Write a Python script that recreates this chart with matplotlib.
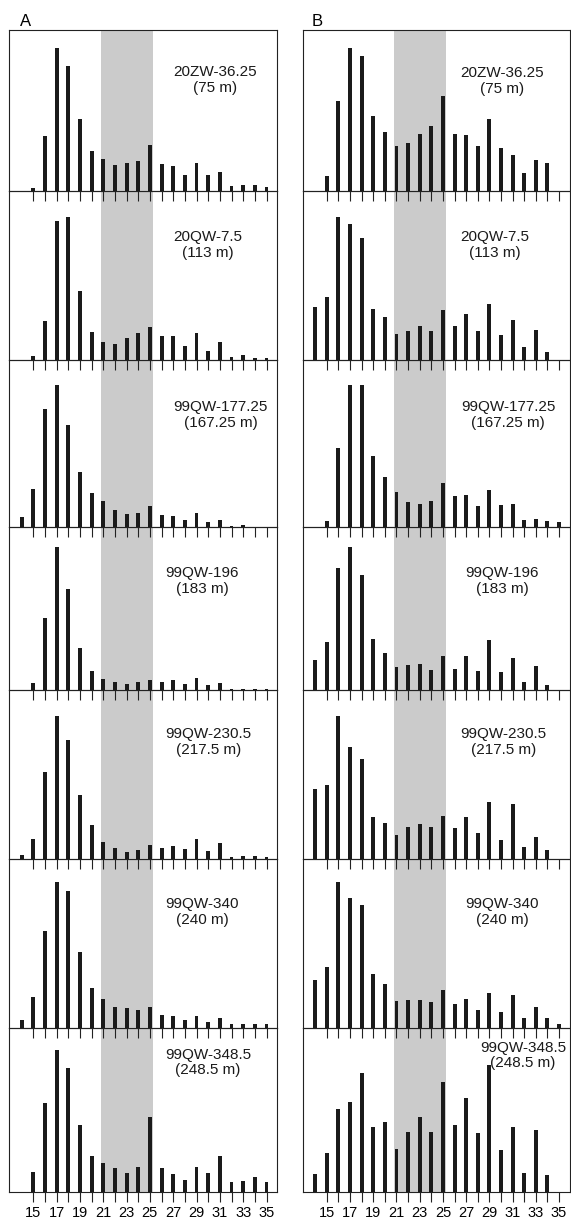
"""Grain-size style histograms, two columns (A, B) of seven stacked samples."""
import matplotlib
matplotlib.use("Agg")
import matplotlib.pyplot as plt

plt.rcParams["font.family"] = ["Liberation Sans", "DejaVu Sans"]

# bins 14..35, values in arbitrary units
SIZES = list(range(14, 36))
SAMPLES = ["20ZW-36.25", "20QW-7.5", "99QW-177.25", "99QW-196", "99QW-230.5", "99QW-340", "99QW-348.5"]
DEPTHS = ["75 m", "113 m", "167.25 m", "183 m", "217.5 m", "240 m", "248.5 m"]

a_20zw_36 = [0, 7, 164, 429, 374, 216, 118, 96, 78, 82, 89, 137, 79, 75, 46, 82, 46, 55, 15, 17, 17, 11]
a_20qw_7 = [0, 12, 117, 417, 430, 206, 83, 53, 47, 67, 82, 99, 71, 72, 41, 82, 27, 53, 10, 14, 7, 5]
a_99qw_177 = [29, 113, 353, 425, 306, 165, 102, 77, 51, 40, 41, 64, 37, 34, 21, 41, 16, 22, 3, 5, 1, 1]
a_99qw_196 = [0, 22, 217, 429, 304, 127, 57, 32, 23, 19, 23, 30, 25, 29, 17, 35, 14, 20, 4, 4, 3, 3]
a_99qw_230 = [11, 61, 261, 428, 358, 193, 103, 52, 33, 22, 28, 41, 34, 39, 30, 60, 23, 47, 6, 8, 8, 7]
a_99qw_340 = [23, 91, 289, 436, 409, 226, 120, 85, 62, 58, 54, 61, 38, 34, 22, 35, 16, 28, 10, 11, 11, 11]
a_99qw_348 = [0, 60, 268, 428, 374, 201, 109, 89, 73, 58, 75, 226, 72, 54, 38, 76, 58, 108, 31, 35, 47, 30]

b_20zw_36 = [0, 44, 269, 429, 404, 224, 177, 134, 143, 170, 195, 284, 170, 167, 134, 216, 129, 107, 54, 92, 83, 0]
b_20qw_7 = [159, 189, 430, 408, 366, 152, 128, 79, 86, 102, 88, 151, 101, 137, 86, 167, 74, 119, 39, 90, 24, 0]
b_99qw_177 = [0, 19, 236, 426, 426, 214, 150, 104, 76, 70, 78, 131, 94, 97, 63, 110, 67, 69, 20, 23, 19, 16]
b_99qw_196 = [89, 145, 367, 429, 346, 154, 111, 69, 74, 78, 61, 103, 62, 102, 58, 150, 53, 97, 23, 71, 16, 0]
b_99qw_230 = [211, 221, 428, 335, 299, 126, 109, 72, 96, 105, 96, 130, 92, 125, 77, 171, 57, 164, 36, 67, 28, 0]
b_99qw_340 = [142, 181, 436, 388, 369, 160, 132, 80, 84, 84, 77, 113, 70, 85, 52, 105, 46, 98, 29, 63, 30, 10]
b_99qw_348 = [54, 118, 251, 270, 358, 196, 211, 130, 182, 227, 182, 332, 201, 282, 177, 382, 127, 197, 59, 187, 52, 0]

COL_A = [a_20zw_36, a_20qw_7, a_99qw_177, a_99qw_196, a_99qw_230, a_99qw_340, a_99qw_348]
COL_B = [b_20zw_36, b_20qw_7, b_99qw_177, b_99qw_196, b_99qw_230, b_99qw_340, b_99qw_348]
SHADE_RANGE = (20.8, 25.3)

# layout (pixels)
W, H = 571, 1222
COLS = [(9.3, 277.0), (303.0, 569.5)]
ROWS = [30.0, 190.7, 360.0, 527.0, 690.0, 859.0, 1027.5, 1192.3]
LABEL_X = [[30.6, 30.0, 31.05, 29.5, 30.0, 29.5, 30.0],
           [30.1, 29.5, 30.6, 30.1, 30.2, 30.1, 31.9]]
LABEL_DY = [[50, 54, 55, 54, 52, 53, 35],
            [51, 54, 55, 54, 52, 53, 28]]

fig = plt.figure(figsize=(W / 100, H / 100), dpi=100)

for c, (col, (x0, x1)) in enumerate(zip([COL_A, COL_B], COLS)):
    for r, values in enumerate(col):
        top, bottom = ROWS[r], ROWS[r + 1]
        ax = fig.add_axes([x0 / W, 1 - bottom / H, (x1 - x0) / W, (bottom - top) / H])
        ax.set_zorder(20 - r)
        ax.patch.set_visible(False)
        ax.axvspan(*SHADE_RANGE, color="#cbcbcb", lw=0, zorder=0)
        ax.bar(SIZES, values, width=0.34, color="#1a1a1a", zorder=2)
        ax.set_xlim(12.95, 35.9)
        ax.set_ylim(0, (bottom - top) * 3)
        ticks = list(range(15, 36))
        ax.set_xticks(ticks)
        if r == len(col) - 1:
            ax.set_xticklabels([str(t) if t % 2 else "" for t in ticks], fontsize=10.5)
        else:
            ax.set_xticklabels([])
        ax.set_yticks([])
        ax.tick_params(axis="x", direction="out", length=7.5, width=0.8, color="#222222", pad=2.5)
        for side in ["left", "right", "top", "bottom"]:
            ax.spines[side].set_linewidth(0.8)
            ax.spines[side].set_color("#222222")
        ax.annotate(f"{SAMPLES[r]}\n({DEPTHS[r]})", xy=(LABEL_X[c][r], 1),
                    xycoords=("data", "axes fraction"), xytext=(0, -LABEL_DY[c][r] * 0.72),
                    textcoords="offset points", ha="center", va="center",
                    fontsize=11, linespacing=1.15, color="#1a1a1a")

fig.text(26 / W, 1 - 22 / H, "A", ha="center", va="center", fontsize=12)
fig.text(317 / W, 1 - 22 / H, "B", ha="center", va="center", fontsize=12)

fig.savefig("out.png", dpi=100)
